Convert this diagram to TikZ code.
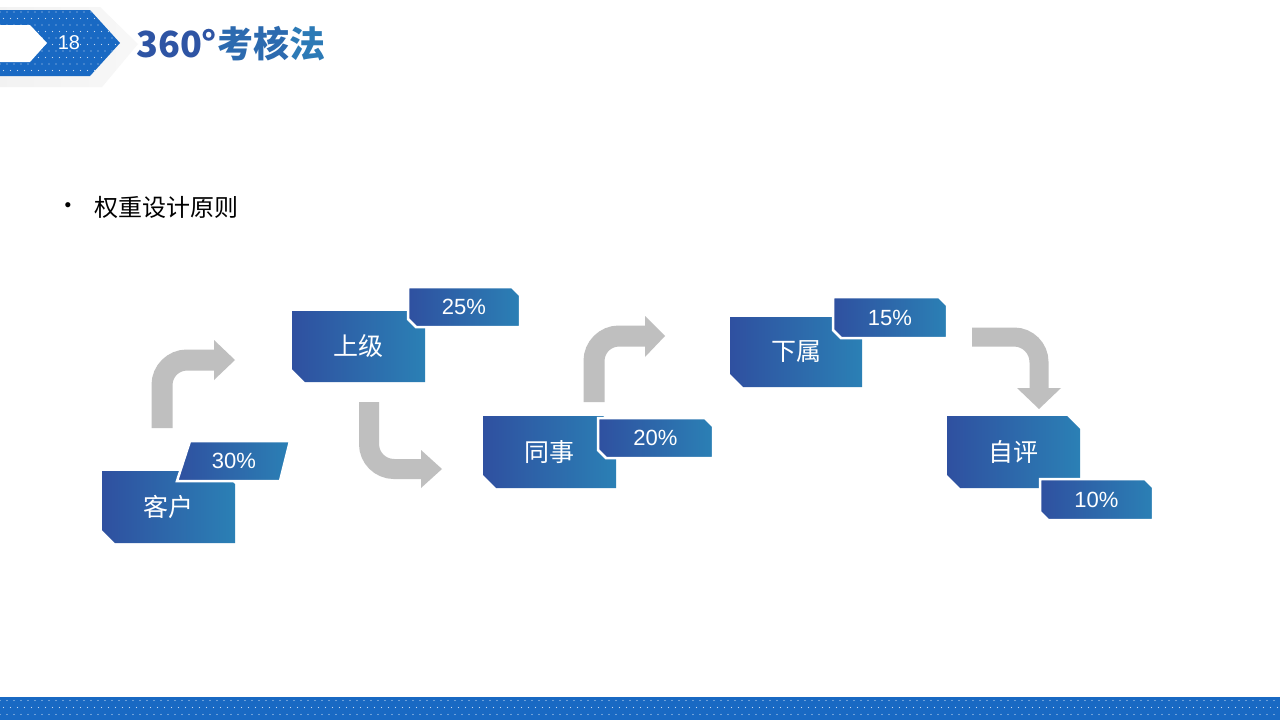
\documentclass[tikz,border=0pt]{standalone}
\usepackage{fontspec}
\newfontfamily\cjk{Noto Sans CJK SC}
\newfontfamily\arial{Liberation Sans}
\usetikzlibrary{shapes.misc}
\definecolor{bA}{RGB}{47,80,160}
\definecolor{bB}{RGB}{43,128,181}
\definecolor{band}{RGB}{25,105,195}
\definecolor{arrowgray}{RGB}{191,191,191}
\definecolor{tA}{RGB}{46,84,164}
\definecolor{tB}{RGB}{44,106,175}
\definecolor{tC}{RGB}{44,122,182}
\begin{document}
\begin{tikzpicture}[x=1pt,y=-1pt,
  mainbox/.style={chamfered rectangle, chamfered rectangle corners={north east,south west},
    chamfered rectangle xsep=6.5pt, chamfered rectangle ysep=6.5pt,
    left color=bA, right color=bB, text=white, inner sep=0pt,
    font=\cjk\fontsize{25}{25}\selectfont},
  tagbox/.style={chamfered rectangle, chamfered rectangle corners={north east,south west},
    chamfered rectangle xsep=4pt, chamfered rectangle ysep=4pt,
    left color=bA, right color=bB, draw=white, line width=2.5pt, text=white, inner sep=0pt,
    font=\arial\fontsize{22}{22}\selectfont},
  tagtext/.style={text=white, inner sep=0pt, font=\arial\fontsize{22}{22}\selectfont},
  grayarrow/.style={draw=arrowgray, line width=21pt, rounded corners=25pt},
  grayhead/.style={fill=arrowgray},
  dot/.style={fill=white!75!band}
]
\useasboundingbox (0,0) rectangle (1280,720);
\fill[white] (0,0) rectangle (1280,720);

% header chevron
\shade[left color=gray!10, right color=gray!6] (0,7) -- (100,7) -- (138,44) -- (102,87) -- (0,87) -- cycle;
\fill[band] (0,10) -- (90,10) -- (120,43) -- (90,76) -- (0,76) -- cycle;
\begin{scope}
  \clip (0,10) -- (90,10) -- (120,43) -- (90,76) -- (0,76) -- cycle;
  \foreach \r [evaluate=\r as \off using {mod(\r,2)*3.5}] in {0,...,10}
    \foreach \c in {0,...,18}
      \fill[dot] ({\c*7+\off},{12+\r*6.5}) circle (0.7);
\end{scope}
\fill[white] (0,25) -- (30,25) -- (47,43) -- (30,62) -- (0,62) -- cycle;
\node[text=white, inner sep=0pt, font=\arial\fontsize{20}{20}\selectfont] (num) at (69,43) {18};
\node[anchor=west, inner sep=0pt, font=\cjk\bfseries\fontsize{36}{36}\selectfont] (title) at (136,44)
  {\textcolor{tA}{360°}\textcolor{tB}{考核}\textcolor{tC}{法}};

% bullet
\node[inner sep=0pt, font=\arial\fontsize{19}{19}\selectfont] (bullet) at (68,207) {•};
\node[anchor=west, inner sep=0pt, font=\cjk\fontsize{24}{24}\selectfont] (sub) at (94,207) {权重设计原则};

% gray arrows
\coordinate (a1s) at (162,428); \coordinate (a1c) at (162,360); \coordinate (a1e) at (214,360);
\draw[grayarrow] (a1s) -- (a1c) -- (a1e);
\fill[grayhead] (214,340) -- (235,360) -- (214,380) -- cycle;

\coordinate (a2s) at (369,402); \coordinate (a2c) at (369,469); \coordinate (a2e) at (421,469);
\draw[grayarrow, line width=20pt] (a2s) -- (a2c) -- (a2e);
\fill[grayhead] (421,450) -- (442,469) -- (421,488) -- cycle;

\coordinate (a3s) at (594,402); \coordinate (a3c) at (594,336); \coordinate (a3e) at (645,336);
\draw[grayarrow] (a3s) -- (a3c) -- (a3e);
\fill[grayhead] (645,316) -- (665,336) -- (645,357) -- cycle;

\coordinate (a4s) at (972,337); \coordinate (a4c) at (1039,337); \coordinate (a4e) at (1039,388);
\draw[grayarrow, line width=19pt] (a4s) -- (a4c) -- (a4e);
\fill[grayhead] (1017,388) -- (1039,409) -- (1061,388) -- cycle;

% boxes
\node[mainbox, minimum width=133pt, minimum height=72pt] (kehu) at (168.5,507) {客户};
\shade[left color=bA, right color=bB] (190,441) -- (290,441) -- (280,481) -- (177,481) -- cycle;
\draw[white, line width=2.5pt] (190,441) -- (290,441) -- (280,481) -- (177,481) -- cycle;
\node[tagtext] (p30) at (234,461) {30\%};

\node[mainbox, minimum width=133pt, minimum height=71pt] (shangji) at (358.5,346.5) {上级};
\node[tagbox, minimum width=112pt, minimum height=40pt] (p25) at (464,307) {25\%};

\node[mainbox, minimum width=133pt, minimum height=72pt] (tongshi) at (549.5,452) {同事};
\node[tagbox, minimum width=115pt, minimum height=40pt] (p20) at (655.5,438) {20\%};

\node[mainbox, minimum width=132pt, minimum height=70pt] (xiashu) at (796,352) {下属};
\node[tagbox, minimum width=114pt, minimum height=41pt] (p15) at (890,317.5) {15\%};

\node[mainbox, minimum width=133pt, minimum height=72pt] (ziping) at (1013.5,452) {自评};
\node[tagbox, minimum width=113pt, minimum height=41pt] (p10) at (1096.5,499.5) {10\%};

% bottom band
\fill[band] (0,697) rectangle (1280,720);
\foreach \r [evaluate=\r as \off using {mod(\r,2)*3.5}] in {0,1,2}
  \foreach \c in {0,...,183}
    \fill[dot] ({\c*7+\off},{700.5+\r*7}) circle (0.7);
\end{tikzpicture}
\end{document}
